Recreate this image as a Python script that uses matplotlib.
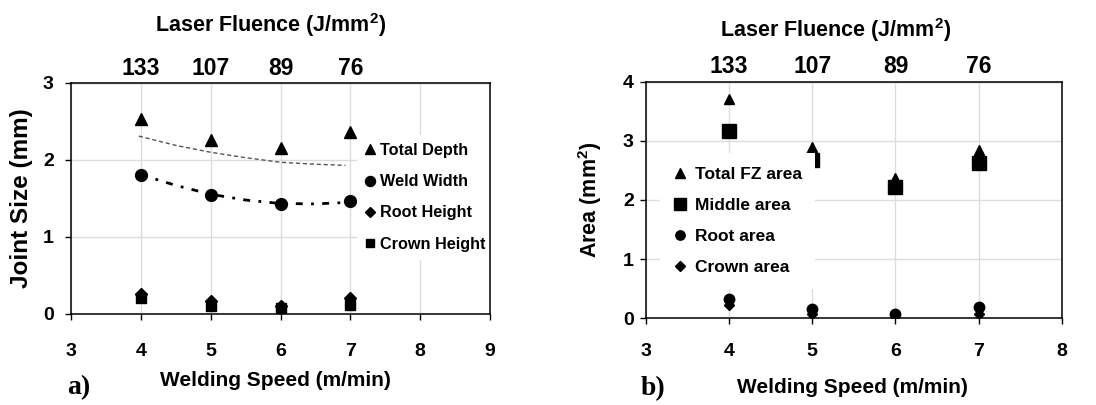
import numpy as np
import matplotlib.pyplot as plt

plt.rcParams['font.family'] = ['Liberation Sans', 'DejaVu Sans']
plt.rcParams['font.weight'] = 'bold'
plt.rcParams['mathtext.fontset'] = 'custom'
plt.rcParams['mathtext.rm'] = 'Liberation Sans:bold'
plt.rcParams['mathtext.bf'] = 'Liberation Sans:bold'

# welding speed (m/min) and the matching laser fluence (J/mm2)
speed = [4, 5, 6, 7]
fluence = ['133', '107', '89', '76']

# a) joint size (mm)
total_depth = [2.53, 2.26, 2.15, 2.36]
weld_width = [1.81, 1.55, 1.43, 1.47]
root_height = [0.26, 0.165, 0.11, 0.21]
crown_height = [0.21, 0.10, 0.08, 0.12]

# trend curves on plot a)
depth_trend_x = [3.97, 4.5, 5.0, 5.5, 6.0, 6.5, 6.93]
depth_trend_y = [2.31, 2.19, 2.10, 2.03, 1.97, 1.945, 1.93]
width_trend_x = [4.0, 4.5, 5.0, 5.5, 6.0, 6.5, 7.0]
width_trend_y = [1.81, 1.67, 1.555, 1.48, 1.435, 1.43, 1.45]

# b) areas (mm2)
total_fz = [3.70, 2.90, 2.37, 2.85]
middle_area = [3.17, 2.68, 2.22, 2.62]
root_area = [0.32, 0.16, 0.08, 0.19]
crown_area = [0.23, 0.07, 0.07, 0.07]

grid_col = '#dcdcdc'


def style(ax, xmax, ymax, xpad, ypad):
    ax.set_xlim(3, xmax)
    ax.set_ylim(0, ymax)
    ax.set_xticks(range(3, xmax + 1))
    ax.set_yticks(range(0, ymax + 1))
    ax.grid(True, color=grid_col, lw=1)
    ax.set_axisbelow(True)
    ax.tick_params(direction='out', length=4, width=1, labelsize=14)
    ax.tick_params(axis='x', pad=xpad)
    ax.tick_params(axis='y', pad=ypad)
    for s in ax.spines.values():
        s.set_linewidth(1.1)
    top = ax.secondary_xaxis('top')
    top.set_xticks(speed)
    top.set_xticklabels(fluence)
    top.tick_params(length=0, labelsize=16.5, pad=2.4)
    return top


fig = plt.figure(figsize=(10.96, 4.05), dpi=100)

# ---- a) joint size
ax = fig.add_axes([0.0648, 0.2247, 0.3823, 0.5704])
style(ax, 9, 3, 17, 8.5)
ax.plot(depth_trend_x, depth_trend_y, color='#555555', lw=1, ls=(0, (3, 2)))
ax.plot(width_trend_x, width_trend_y, color='black', lw=2, ls=(0, (2.5, 3, 1, 3)))
ax.plot(speed, total_depth, '^', color='black', ms=9, label='Total Depth')
ax.plot(speed, weld_width, 'o', color='black', ms=8.5, label='Weld Width')
ax.plot(speed, root_height, 'D', color='black', ms=6.5, label='Root Height')
ax.plot(speed, crown_height, 's', color='black', ms=7.5, label='Crown Height')
ax.text(0.4766, 1.251, 'Laser Fluence (J/mm$^2$)', transform=ax.transAxes,
        ha='center', va='center', fontsize=15.5, fontweight='bold')
ax.set_xlabel('Welding Speed (m/min)', fontsize=15, fontweight='bold', va='center')
ax.xaxis.set_label_coords(0.489, -0.286)
ax.set_ylabel('Joint Size (mm)', fontsize=17.5, fontweight='bold', va='center')
ax.yaxis.set_label_coords(-0.117, 0.5)
leg = ax.legend(loc='center left', bbox_to_anchor=(0.682, 0.505), borderaxespad=0,
                frameon=True, facecolor='white', edgecolor='none', framealpha=1,
                fancybox=False, handlelength=0.6, handletextpad=0.3,
                labelspacing=1.0, borderpad=0.5, prop={'size': 11.7, 'weight': 'bold'},
                markerscale=0.85)
leg.set_zorder(2.4)
fig.text(79 / 1096, 1 - 388 / 405, 'a)', fontsize=20, fontweight='bold',
         family='Liberation Serif', ha='center', va='center')

# ---- b) areas
bx = fig.add_axes([0.5891, 0.2141, 0.3799, 0.5842])
style(bx, 8, 4, 13.5, 4.5)
bx.plot(speed, total_fz, '^', color='black', ms=7.5, label='Total FZ area')
bx.plot(speed, middle_area, 's', color='black', ms=9.5, label='Middle area')
bx.plot(speed, root_area, 'o', color='black', ms=7.5, label='Root area')
bx.plot(speed, crown_area, 'D', color='black', ms=5.5, label='Crown area')
bx.text(0.456, 1.218, 'Laser Fluence (J/mm$^2$)', transform=bx.transAxes,
        ha='center', va='center', fontsize=15.5, fontweight='bold')
bx.set_xlabel('Welding Speed (m/min)', fontsize=15, fontweight='bold', va='center')
bx.xaxis.set_label_coords(0.497, -0.294)
bx.set_ylabel('Area (mm$^2$)', fontsize=15.5, fontweight='bold', va='center')
bx.yaxis.set_label_coords(-0.134, 0.5)
bx.legend(loc='center left', bbox_to_anchor=(0.034, 0.411), borderaxespad=0,
          frameon=True, facecolor='white', edgecolor='none', framealpha=1,
          fancybox=False, handlelength=0.7, handletextpad=0.5,
          labelspacing=0.91, borderpad=0.8, prop={'size': 12.5, 'weight': 'bold'},
          markerscale=0.9)
fig.text(653 / 1096, 1 - 389 / 405, 'b)', fontsize=20, fontweight='bold',
         family='Liberation Serif', ha='center', va='center')

fig.savefig('out.png', dpi=100)
